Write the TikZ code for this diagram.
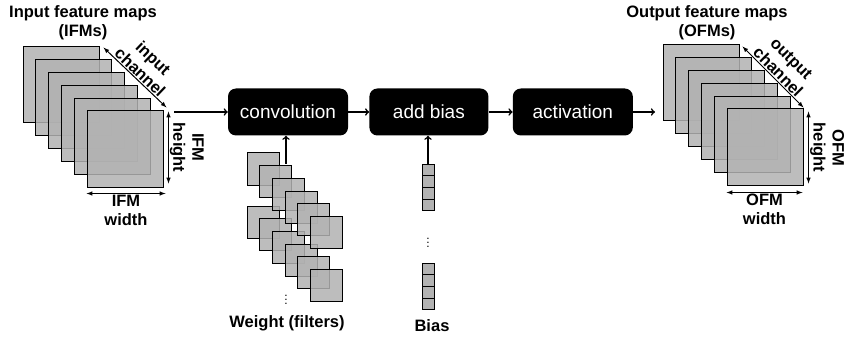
\documentclass[tikz,border=0pt]{standalone}
\usepackage{fontspec}
\setmainfont{Liberation Sans}
\usetikzlibrary{arrows,positioning}
\tikzset{
  fmap/.style={rectangle,draw=black,line width=1pt,fill=black!30,fill opacity=0.85,minimum size=76pt,inner sep=0pt},
  wmap/.style={fmap,minimum size=32pt},
  bcell/.style={rectangle,draw=black,line width=1pt,fill=black!30,minimum width=12pt,minimum height=11.7pt,inner sep=0pt},
  stage/.style={rectangle,rounded corners=8pt,fill=black,text=white,minimum width=120pt,minimum height=47pt,inner sep=0pt,font=\fontsize{19}{22}\selectfont},
  lbl/.style={font=\bfseries\fontsize{16.5}{19}\selectfont,align=center,inner sep=1pt},
  dots/.style={font=\large,inner sep=0pt},
  flow/.style={->,line width=1.6pt},
  dim/.style={latex-latex,line width=1pt}
}
\begin{document}
\begin{tikzpicture}[x=1pt,y=-1pt]
\useasboundingbox (0,0) rectangle (846,342);
% input feature maps
\foreach \i in {1,...,6}
  \node (ifm\i) [fmap] at ({61+12.8*(\i-1)},{85+12.8*(\i-1)}) {};
\node (ifmt) [lbl] at (83,22.5) {Input feature maps\\(IFMs)};
\draw[dim] ([shift={(4,1)}]ifm1.north east) -- node[lbl,sloped,above] {input\\channel} ([shift={(3,-3)}]ifm6.north east);
\draw[dim] ([shift={(5,1)}]ifm6.north east) -- node[lbl,sloped,above] {IFM\\height} ([shift={(5,-4)}]ifm6.south east);
\draw[dim] ([shift={(0,6)}]ifm6.south west) -- node[lbl,below] {IFM\\width} ([shift={(2,6)}]ifm6.south east);
%
% processing stages
\coordinate (in) at (174,112);
\node (conv) [stage] at (288,112) {convolution};
\node (addb) [stage,minimum width=119pt,right=21pt of conv] {add bias};
\node (act) [stage,right=24pt of addb] {activation};
\coordinate (out) at (655,112);
\path[flow] (in) edge (conv);
\path[flow] (conv) edge (addb);
\path[flow] (addb) edge (act);
\path[flow] (act) edge (out);
%
% weights (two filters shown)
\foreach \i in {1,...,6}
  \node (wb\i) [wmap] at ({263+12.7*(\i-1)},{222+12.7*(\i-1)}) {};
\foreach \i in {1,...,6}
  \node (wa\i) [wmap] at ({263+12.7*(\i-1)},{169+12.7*(\i-1)}) {};
\node (wdots) [dots] at (286,297) {$\vdots$};
\node (wlbl) [lbl] at (287,323) {Weight (filters)};
\coordinate (wtop) at (286,164);
\path[flow] (wtop) edge (wtop |- conv.south);
%
% bias vector
\foreach \i in {1,...,4}
  \node (ba\i) [bcell] at (428,{169.9+11.7*(\i-1)}) {};
\foreach \i in {1,...,4}
  \node (bb\i) [bcell] at (428,{268.9+11.7*(\i-1)}) {};
\node (bdots) [dots] at (428,240) {$\vdots$};
\node (blbl) [lbl] at (432,326) {Bias};
\path[flow] (ba1.north) edge (ba1.north |- addb.south);
%
% output feature maps
\foreach \i in {1,...,6}
  \node (ofm\i) [fmap] at ({701+12.8*(\i-1)},{83+12.8*(\i-1)}) {};
\node (ofmt) [lbl] at (707,22.5) {Output feature maps\\(OFMs)};
\draw[dim] ([shift={(3,2)}]ofm1.north east) -- node[lbl,sloped,above] {output\\channel} ([shift={(0,-1)}]ofm6.north east);
\draw[dim] ([shift={(5,3)}]ofm6.north east) -- node[lbl,sloped,above] {OFM\\height} ([shift={(5,-2)}]ofm6.south east);
\draw[dim] ([shift={(0,7)}]ofm6.south west) -- node[lbl,below] {OFM\\width} ([shift={(-1,7)}]ofm6.south east);
\end{tikzpicture}
\end{document}
